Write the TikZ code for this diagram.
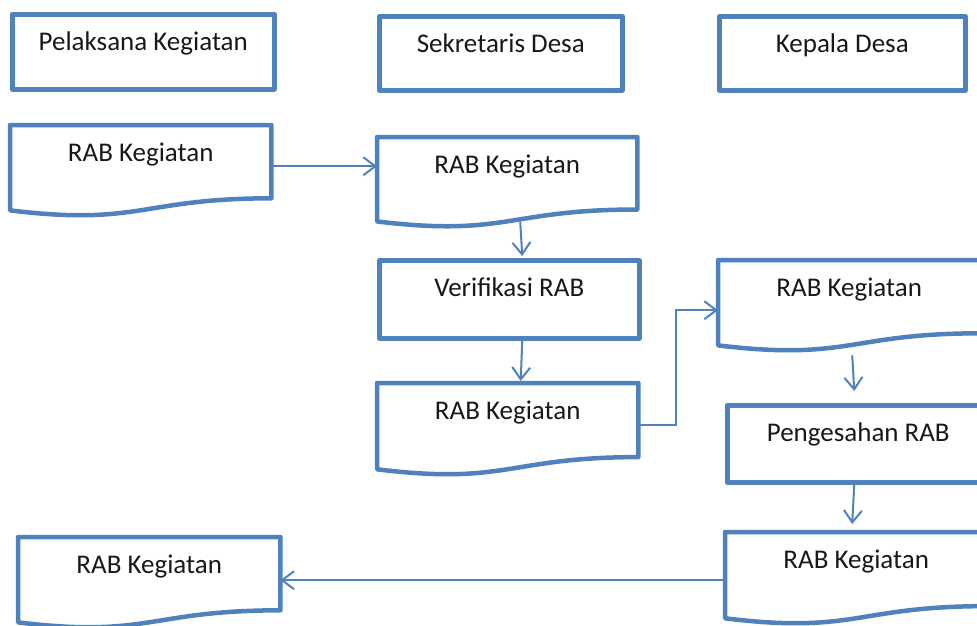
\documentclass[tikz,border=0pt]{standalone}
\usepackage{fontspec}
\setmainfont{Carlito}
\usetikzlibrary{calc,arrows.meta}
\definecolor{flowblue}{RGB}{79,129,189}
\definecolor{inkgray}{RGB}{24,24,24}
\tikzset{
  boxbase/.style={anchor=north west, inner sep=0pt, text height=36pt,
    text=inkgray, font=\fontsize{27pt}{32pt}\selectfont, align=center},
  plainbox/.style={boxbase, draw=flowblue, line width=4.5pt, line join=round},
  docbox/.style={boxbase, draw=none},
  docline/.style={draw=flowblue, line width=4.5pt, line join=round},
  flow/.style={draw=flowblue, line width=2pt,
    -{Straight Barb[length=12pt,width=18pt,line width=2pt]}}
}
\begin{document}
\begin{tikzpicture}[x=1pt,y=-1pt]
\useasboundingbox (0,0) rectangle (977,625);
\clip (0,0) rectangle (977,625);

% column headings
\node[plainbox, minimum width=262pt, text depth=39pt] (h1) at (10,12) {Pelaksana Kegiatan};
\node[plainbox, minimum width=243pt, text depth=38pt] (h2) at (377,14) {Sekretaris Desa};
\node[plainbox, minimum width=246pt, text depth=38pt] (h3) at (717,14) {Kepala Desa};

% documents and process steps
\node[docbox, minimum width=261pt, text depth=55pt] (d1) at (10,125) {RAB Kegiatan};
\node[docbox, minimum width=260pt, text depth=54pt] (d2) at (377,137) {RAB Kegiatan};
\node[plainbox, minimum width=260pt, text depth=42pt] (ver) at (377,258) {Verifikasi RAB};
\node[docbox, minimum width=261pt, text depth=56pt] (d3) at (377,383) {RAB Kegiatan};
\node[docbox, minimum width=262pt, text depth=55pt] (d4) at (718,260) {RAB Kegiatan};
\node[plainbox, minimum width=262pt, text depth=41pt] (pen) at (725,403) {Pengesahan RAB};
\node[docbox, minimum width=262pt, text depth=56pt] (d5) at (725,532) {RAB Kegiatan};
\node[docbox, minimum width=262pt, text depth=55pt] (d6) at (18,537) {RAB Kegiatan};

% connectors
\draw[flow] ([yshift=4.5pt]d1.east) -- ([yshift=4.5pt]d1.east -| d2.west);
\draw[flow] ([xshift=13pt,yshift=6pt]d2.south) -- ([xshift=13pt,yshift=2pt]ver.north);
\draw[flow] ([xshift=13pt]ver.south) -- ([xshift=13pt,yshift=2pt]d3.north);
\draw[flow] ([yshift=4pt]d3.east) -- ([xshift=38pt,yshift=4pt]d3.east)
  |- ([yshift=-4.5pt]d4.west);
\draw[flow] ([xshift=3pt,yshift=-4pt]d4.south) -- ([xshift=-4pt,yshift=12pt]pen.north);
\draw[flow] ([xshift=-4pt]pen.south) -- ([xshift=-4pt,yshift=8pt]d5.north);
\draw[flow] ([yshift=-2pt]d5.west) -- ([yshift=-2pt]d5.west -| d6.east);

% document outlines with the wavy lower edge
\foreach \n in {d1,d2,d3,d4,d5,d6}{
  \draw[docline] (\n.north west) -- (\n.north east)
    -- ($(\n.north east)!0.802!(\n.south east)$)
    .. controls ($(\n.north)!0.802!(\n.south)$) and ($(\n.north)!1.1075!(\n.south)$)
    .. ($(\n.north west)!0.934!(\n.south west)$) -- cycle;
}
\end{tikzpicture}
\end{document}
